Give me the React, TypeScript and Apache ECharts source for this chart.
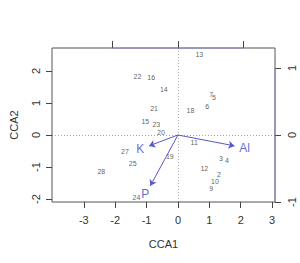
import React, { useEffect, useRef } from "react";
import * as echarts from "echarts";

const siteNames = ["13","22","16","14","7","5","6","21","18","15","23","20","11","27","19","3","4","25","28","12","2","10","9","24"];
const siteX = [0.68,-1.29,-0.85,-0.45,1.06,1.15,0.93,-0.76,0.40,-1.04,-0.69,-0.54,0.52,-1.69,-0.26,1.37,1.56,-1.44,-2.44,0.84,1.31,1.18,1.06,-1.32];
const siteY = [2.53,1.84,1.81,1.41,1.28,1.16,0.88,0.84,0.78,0.41,0.34,0.09,-0.22,-0.53,-0.66,-0.72,-0.81,-0.88,-1.13,-1.06,-1.22,-1.44,-1.67,-1.94];

const envNames = ["K", "Al", "P"];
const envX = [-0.92, 1.80, -0.88];
const envY = [-0.34, -0.34, -1.59];
const envLabelX = [-1.20, 2.12, -1.04];
const envLabelY = [-0.44, -0.41, -1.84];

const xTicks = [-3, -2, -1, 0, 1, 2, 3];
const yTicks = [-2, -1, 0, 1, 2];
const x2Ticks = [-1, 0, 1];
const y2Ticks = [-1, 0, 1];

const xMin = -4.012, xMax = 3.092;
const yMin = -2.094, yMax = 2.719;
const x2Min = -1.913, x2Max = 1.475;
const y2Min = -1.0, y2Max = 1.2985;

const FONT = "Liberation Sans, Arial, sans-serif";
const BLUE_LINE = "#5757cc";
const BLUE_TEXT = "#3f3fbf";
const AXIS_COL = "#444";

export default function App() {
  const ref = useRef<HTMLDivElement>(null);
  useEffect(() => {
    if (!ref.current) return;
    const chart = echarts.init(ref.current, undefined, { renderer: "svg" });
    const mainAxisBase = {
      type: "value" as const,
      splitLine: { show: false },
      axisLine: { show: false, onZero: false },
    };
    chart.setOption({
      animation: false,
      backgroundColor: "#fff",
      textStyle: { fontFamily: FONT },
      grid: {
        left: 48, right: 25, top: 48, bottom: 61,
        show: true, borderColor: "#555", borderWidth: 1, backgroundColor: "transparent",
      },
      xAxis: [
        {
          ...mainAxisBase,
          position: "bottom",
          min: xMin, max: xMax,
          name: "CCA1", nameLocation: "middle", nameGap: 36,
          nameTextStyle: { fontSize: 11, color: "#333", fontFamily: FONT },
          axisTick: { show: true, customValues: xTicks, length: 6, lineStyle: { color: AXIS_COL } },
          axisLabel: { show: true, customValues: xTicks, fontSize: 11, color: "#333", margin: 12, fontFamily: FONT },
        },
        {
          ...mainAxisBase,
          position: "top",
          min: x2Min, max: x2Max,
          axisTick: { show: true, customValues: x2Ticks, length: 7, lineStyle: { color: AXIS_COL } },
          axisLabel: { show: false },
        },
      ],
      yAxis: [
        {
          ...mainAxisBase,
          position: "left",
          min: yMin, max: yMax,
          name: "CCA2", nameLocation: "middle", nameGap: 33,
          nameTextStyle: { fontSize: 11, color: "#333", fontFamily: FONT },
          axisTick: { show: true, customValues: yTicks, length: 6, lineStyle: { color: AXIS_COL } },
          axisLabel: { show: true, customValues: yTicks, fontSize: 11, color: "#333", rotate: 90, margin: 11, fontFamily: FONT },
        },
        {
          ...mainAxisBase,
          position: "right",
          min: y2Min, max: y2Max,
          axisTick: { show: true, customValues: y2Ticks, length: 6, lineStyle: { color: AXIS_COL } },
          axisLabel: { show: true, customValues: y2Ticks, fontSize: 11, color: "#333", rotate: 90, margin: 11, fontFamily: FONT },
        },
      ],
      series: [
        {
          type: "lines",
          coordinateSystem: "cartesian2d",
          xAxisIndex: 0, yAxisIndex: 0,
          symbol: ["none", "none"],
          lineStyle: { color: "#555", width: 1, type: [1, 2] },
          data: [
            { coords: [[0, yMin], [0, yMax]] },
            { coords: [[xMin, 0], [xMax, 0]] },
          ],
          silent: true,
          z: 1,
        },
        {
          type: "lines",
          coordinateSystem: "cartesian2d",
          xAxisIndex: 1, yAxisIndex: 1,
          symbol: ["none", "none"],
          lineStyle: { color: "#7d7dd6", width: 1.5 },
          data: [
            { coords: [[x2Ticks[0], y2Max], [x2Ticks[x2Ticks.length - 1], y2Max]] },
            { coords: [[x2Max, y2Ticks[0]], [x2Max, y2Ticks[y2Ticks.length - 1]]] },
          ],
          silent: true,
          z: 3,
        },
        {
          type: "lines",
          coordinateSystem: "cartesian2d",
          xAxisIndex: 0, yAxisIndex: 0,
          symbol: ["none", "arrow"],
          symbolSize: [0, 6],
          lineStyle: { color: BLUE_LINE, width: 1, opacity: 1 },
          data: envNames.map((n, i) => ({ name: n, coords: [[0, 0], [envX[i], envY[i]]] })),
          silent: true,
          z: 4,
        },
        {
          type: "scatter",
          xAxisIndex: 0, yAxisIndex: 0,
          symbolSize: 0,
          data: siteNames.map((n, i) => ({ name: n, value: [siteX[i], siteY[i]] })),
          label: {
            show: true, position: "inside", formatter: (p: any) => p.name,
            fontSize: 7, color: "#333", fontFamily: FONT,
          },
          silent: true,
          z: 5,
        },
        {
          type: "scatter",
          xAxisIndex: 0, yAxisIndex: 0,
          symbolSize: 0,
          data: envNames.map((n, i) => ({ name: n, value: [envLabelX[i], envLabelY[i]] })),
          label: {
            show: true, position: "inside", formatter: (p: any) => p.name,
            fontSize: 12, color: BLUE_TEXT, fontFamily: FONT,
          },
          silent: true,
          z: 5,
        },
      ],
    });
    return () => chart.dispose();
  }, []);
  return <div ref={ref} style={{ width: 300, height: 263, position: "absolute", left: 0, top: 0 }} />;
}
